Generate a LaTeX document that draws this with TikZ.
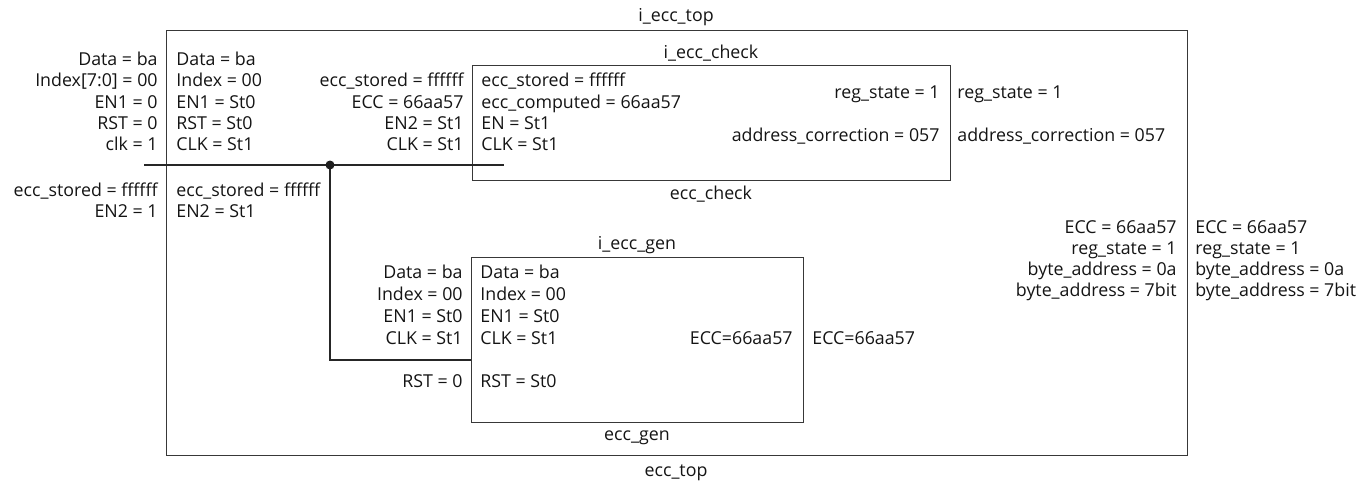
\documentclass[tikz,border=0pt]{standalone}
\usepackage{fontspec}
\setmainfont{Open Sans}
\begin{document}
\begin{tikzpicture}[x=0.5pt,y=-0.5pt,
  lbl/.style={inner sep=0pt,text height=6.2pt,text depth=0pt,text=black!92,font=\fontsize{8.9}{10.5}\selectfont},
  pl/.style={lbl,anchor=east},
  pr/.style={lbl,anchor=west},
  ttl/.style={lbl,anchor=center},
  blk/.style={draw=black!78,line width=0.6pt,inner sep=0pt,anchor=north west},
  wire/.style={draw=black!85,line width=0.55pt}]
\useasboundingbox (0,0) rectangle (1372,482);
% blocks
\node[blk,minimum width=510.5pt,minimum height=212.5pt] (top) at (166,30) {};
\node[blk,minimum width=239pt,minimum height=57.5pt] (chk) at (472,65) {};
\node[blk,minimum width=166pt,minimum height=82.5pt] (gen) at (471,257) {};
% titles
\node[ttl] (ttop) at (676,15) {i\_ecc\_top};
\node[ttl] (btop) at (676,470) {ecc\_top};
\node[ttl] (tchk) at (711,52) {i\_ecc\_check};
\node[ttl] (bchk) at (711,193) {ecc\_check};
\node[ttl] (tgen) at (637,243) {i\_ecc\_gen};
\node[ttl] (bgen) at (637,434) {ecc\_gen};
% outer left ports
\node[pl] (o1) at (158,59) {Data = ba};
\node[pl] (o2) at (158,80.5) {Index[7:0] = 00};
\node[pl] (o3) at (158,102) {EN1 = 0};
\node[pl] (o4) at (158,123) {RST = 0};
\node[pl] (o5) at (158,144.5) {clk = 1};
\node[pl] (o6) at (158,190) {ecc\_stored = ffffff};
\node[pl] (o7) at (158,211) {EN2 = 1};
\node[pr] (i1) at (176,59) {Data = ba};
\node[pr] (i2) at (176,80.5) {Index = 00};
\node[pr] (i3) at (176,102) {EN1 = St0};
\node[pr] (i4) at (176,123) {RST = St0};
\node[pr] (i5) at (176,144.5) {CLK = St1};
\node[pr] (i6) at (176,190) {ecc\_stored = ffffff};
\node[pr] (i7) at (176,211) {EN2 = St1};
% check ports
\node[pl] (c1) at (464,80.5) {ecc\_stored = ffffff};
\node[pl] (c2) at (464,102) {ECC = 66aa57};
\node[pl] (c3) at (464,123) {EN2 = St1};
\node[pl] (c4) at (464,144.5) {CLK = St1};
\node[pr] (d1) at (481,80.5) {ecc\_stored = ffffff};
\node[pr] (d2) at (481,102) {ecc\_computed = 66aa57};
\node[pr] (d3) at (481,123) {EN = St1};
\node[pr] (d4) at (481,144.5) {CLK = St1};
\node[pl] (e1) at (940,92) {reg\_state = 1};
\node[pl] (e2) at (940,135) {address\_correction = 057};
\node[pr] (f1) at (957,92) {reg\_state = 1};
\node[pr] (f2) at (957,135) {address\_correction = 057};
% gen ports
\node[pl] (g1) at (463,272) {Data = ba};
\node[pl] (g2) at (463,294) {Index = 00};
\node[pl] (g3) at (463,316) {EN1 = St0};
\node[pl] (g4) at (463,338) {CLK = St1};
\node[pl] (g5) at (463,381) {RST = 0};
\node[pr] (h1) at (480,272) {Data = ba};
\node[pr] (h2) at (480,294) {Index = 00};
\node[pr] (h3) at (480,316) {EN1 = St0};
\node[pr] (h4) at (480,338) {CLK = St1};
\node[pr] (h5) at (480,381) {RST = St0};
\node[pl] (k1) at (793,338) {ECC=66aa57};
\node[pr] (k2) at (812,338) {ECC=66aa57};
% outer right ports
\node[pl] (r1) at (1177,227) {ECC = 66aa57};
\node[pl] (r2) at (1177,248) {reg\_state = 1};
\node[pl] (r3) at (1177,269) {byte\_address = 0a};
\node[pl] (r4) at (1177,290) {byte\_address = 7bit};
\node[pr] (s1) at (1195,227) {ECC = 66aa57};
\node[pr] (s2) at (1195,248) {reg\_state = 1};
\node[pr] (s3) at (1195,269) {byte\_address = 0a};
\node[pr] (s4) at (1195,290) {byte\_address = 7bit};
% wires
\coordinate (wl) at (144,165);
\coordinate (wr) at (504,165);
\coordinate (jn) at (330,165);
\coordinate (genin) at (471,360);
\draw[wire] (wl) -- (wr);
\draw[wire] (jn) |- (genin);
\fill[black!88] (jn) circle (4.5);
\end{tikzpicture}
\end{document}
